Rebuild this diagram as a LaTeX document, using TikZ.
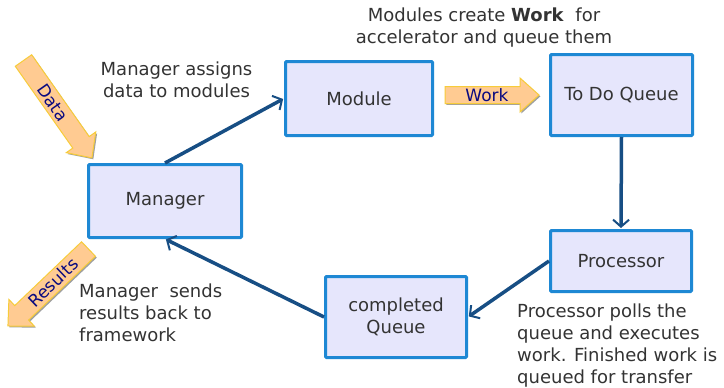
\documentclass[tikz,border=0pt]{standalone}
\usepackage{fontspec}
\setmainfont{DejaVu Sans}
\usetikzlibrary{arrows.meta}
\definecolor{boxfill}{HTML}{E6E6FC}
\definecolor{boxline}{HTML}{1E88D4}
\definecolor{conn}{HTML}{174E84}
\definecolor{txt}{HTML}{333333}
\definecolor{fatfill}{HTML}{FFCB92}
\definecolor{fatline}{HTML}{F7CC3A}
\definecolor{navytxt}{HTML}{0A0A80}
\tikzset{
  stagebox/.style={draw=boxline, line width=3pt, fill=boxfill, rounded corners=1pt,
    font=\fontsize{18}{22}\selectfont, text=txt, align=center, inner sep=0pt},
  conn/.style={draw=conn, line width=3.5pt,
    -{Straight Barb[length=7pt,width=16pt,line width=2pt]}, shorten >=1pt},
  note/.style={font=\fontsize{18}{22}\selectfont, text=txt, inner sep=0pt},
  fattxt/.style={font=\fontsize{17}{20}\selectfont, text=navytxt, inner sep=0pt},
  fat/.style={fill=fatfill, draw=fatline, line width=1pt, line join=miter},
}
% #1 x, #2 y, #3 angle, #4 half length, #5 shaft half width, #6 head half width, #7 head length
\newcommand{\fatarr}[7]{%
  \begin{scope}[shift={(#1+1.4,#2+1.4)},rotate=#3]
    \fill[gray!75] (-#4,-#5) -- ({#4-#7},-#5) -- ({#4-#7},-#6) -- (#4,0) -- ({#4-#7},#6) -- ({#4-#7},#5) -- (-#4,#5) -- cycle;
  \end{scope}
  \begin{scope}[shift={(#1,#2)},rotate=#3]
    \path[fat] (-#4,-#5) -- ({#4-#7},-#5) -- ({#4-#7},-#6) -- (#4,0) -- ({#4-#7},#6) -- ({#4-#7},#5) -- (-#4,#5) -- cycle;
  \end{scope}}
\begin{document}
\begin{tikzpicture}[x=1pt,y=-1pt]
\useasboundingbox (0,0) rectangle (724,388);
\fill[white] (0,0) rectangle (724,388);

% boxes
\node[stagebox, minimum width=147pt, minimum height=74pt] (module) at (359,98.5) {Module};
\node[stagebox, minimum width=142pt, minimum height=81pt] (todo) at (621.5,95) {To Do Queue};
\node[stagebox, minimum width=153pt, minimum height=73pt] (manager) at (165,201) {Manager};
\node[stagebox, minimum width=141pt, minimum height=61pt] (proc) at (621,261) {Processor};
\node[stagebox, minimum width=141pt, minimum height=81pt] (compl) at (396,317) {completed\\Queue};

% connectors
\draw[conn] (manager.north) -- (module.west);
\draw[conn] (todo.south) -- (proc.north);
\draw[conn] (proc.west) -- (compl.east);
\draw[conn] (compl.west) -- (manager.south);

% fat arrows
\fatarr{57.7}{109.2}{-54.9}{59.5}{10}{18}{19}
\node[fattxt, rotate=-54.9] (datalbl) at (53,102.5) {Data};
\fatarr{48.2}{287.5}{223.7}{55.7}{10}{18.5}{19}
\node[fattxt, rotate=43.7] (reslbl) at (53,282.5) {Results};
\fatarr{492}{95}{0}{47}{8.5}{17}{19}
\node[fattxt] (worklbl) at (487,95) {Work};

% notes
\node[note, align=center, anchor=north] (topnote) at (484,8) {Modules create \textbf{Work}\ \ for\\accelerator and queue them};
\node[note, align=center, anchor=north] (assign) at (176.5,62) {Manager assigns\\data to modules};
\node[note, align=left, anchor=north west] (sends) at (79,284) {Manager\ \ sends\\results back to\\framework};
\node[note, align=left, anchor=north west] (polls) at (517,304) {Processor polls the\\queue and executes\\work. Finished work is\\queued for transfer};
\end{tikzpicture}
\end{document}
